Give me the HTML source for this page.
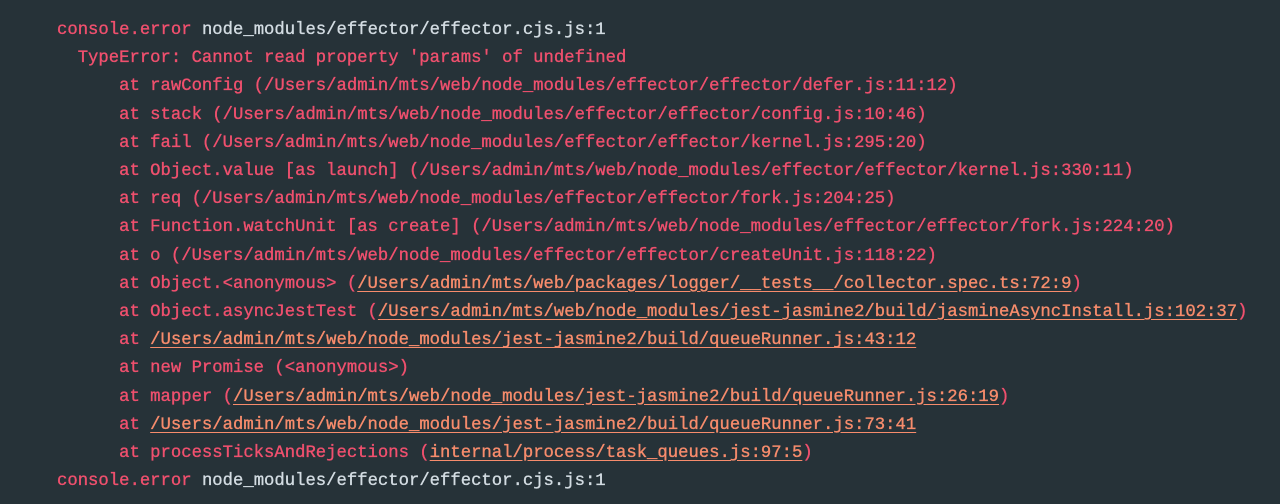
<!DOCTYPE html>
<html><head><style>
html,body{margin:0;padding:0;background:#263238;width:1280px;height:504px;overflow:hidden}
pre{margin:0;position:absolute;left:57px;top:17px;font-family:"Liberation Mono",monospace;font-size:17.25px;line-height:28.2px;color:#f0506e;-webkit-text-stroke:0.35px currentColor;}
.g{color:#d3dce2}.o{color:#f78c6c;text-decoration:underline;text-underline-offset:3px}
</style></head><body><pre>console.error <span class="g">node_modules/effector/effector.cjs.js:1</span>
  TypeError: Cannot read property 'params' of undefined
      at rawConfig (/Users/admin/mts/web/node_modules/effector/effector/defer.js:11:12)
      at stack (/Users/admin/mts/web/node_modules/effector/effector/config.js:10:46)
      at fail (/Users/admin/mts/web/node_modules/effector/effector/kernel.js:295:20)
      at Object.value [as launch] (/Users/admin/mts/web/node_modules/effector/effector/kernel.js:330:11)
      at req (/Users/admin/mts/web/node_modules/effector/effector/fork.js:204:25)
      at Function.watchUnit [as create] (/Users/admin/mts/web/node_modules/effector/effector/fork.js:224:20)
      at o (/Users/admin/mts/web/node_modules/effector/effector/createUnit.js:118:22)
      at Object.&lt;anonymous&gt; (<span class="o">/Users/admin/mts/web/packages/logger/__tests__/collector.spec.ts:72:9</span>)
      at Object.asyncJestTest (<span class="o">/Users/admin/mts/web/node_modules/jest-jasmine2/build/jasmineAsyncInstall.js:102:37</span>)
      at <span class="o">/Users/admin/mts/web/node_modules/jest-jasmine2/build/queueRunner.js:43:12</span>
      at new Promise (&lt;anonymous&gt;)
      at mapper (<span class="o">/Users/admin/mts/web/node_modules/jest-jasmine2/build/queueRunner.js:26:19</span>)
      at <span class="o">/Users/admin/mts/web/node_modules/jest-jasmine2/build/queueRunner.js:73:41</span>
      at processTicksAndRejections (<span class="o">internal/process/task_queues.js:97:5</span>)
console.error <span class="g">node_modules/effector/effector.cjs.js:1</span></pre></body></html>
